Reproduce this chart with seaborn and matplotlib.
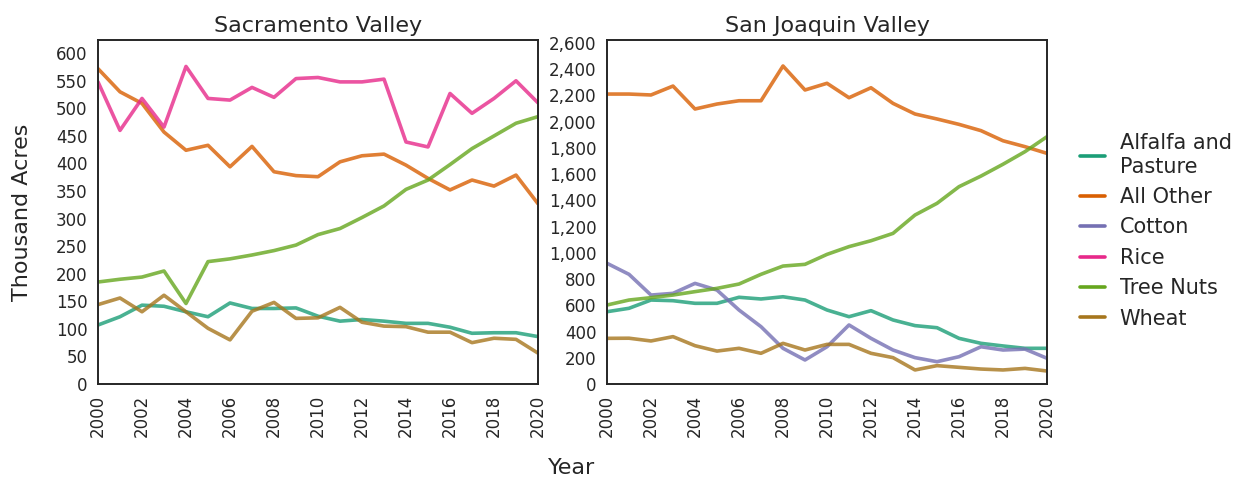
import matplotlib
matplotlib.use("Agg")
import matplotlib.pyplot as plt
import matplotlib.ticker as mticker
import seaborn as sns
import pandas as pd

years = list(range(2000, 2021))
crops = ["Alfalfa and\nPasture", "All Other", "Cotton", "Rice", "Tree Nuts", "Wheat"]

# Sacramento Valley (thousand acres)
sac_alfalfa = [107, 122, 143, 141, 131, 122, 147, 137, 137, 138, 123, 114, 117, 114, 110, 110, 103, 92, 93, 93, 86]
sac_other = [572, 530, 509, 457, 424, 433, 394, 431, 385, 378, 376, 403, 414, 417, 397, 373, 352, 370, 359, 379, 327]
sac_rice = [548, 460, 518, 466, 576, 518, 515, 538, 520, 554, 556, 548, 548, 553, 439, 430, 527, 491, 518, 550, 510]
sac_nuts = [185, 190, 194, 205, 146, 222, 227, 234, 242, 252, 271, 282, 302, 323, 353, 370, 398, 427, 450, 473, 485]
sac_wheat = [144, 156, 131, 161, 131, 101, 80, 132, 148, 119, 120, 139, 112, 105, 104, 94, 94, 75, 83, 81, 56]

# San Joaquin Valley (thousand acres)
sj_alfalfa = [551, 577, 640, 635, 615, 615, 661, 648, 665, 640, 564, 513, 559, 488, 445, 429, 348, 310, 290, 272, 272]
sj_other = [2210, 2210, 2203, 2271, 2096, 2134, 2159, 2159, 2424, 2241, 2292, 2182, 2258, 2139, 2058, 2020, 1979, 1931, 1854, 1809, 1758]
sj_cotton = [920, 836, 678, 691, 767, 716, 564, 437, 272, 183, 284, 450, 348, 259, 201, 170, 208, 284, 259, 266, 196]
sj_nuts = [602, 640, 658, 678, 704, 729, 762, 836, 899, 912, 988, 1047, 1092, 1148, 1288, 1377, 1504, 1585, 1675, 1771, 1885]
sj_wheat = [348, 349, 328, 361, 292, 251, 272, 234, 310, 259, 302, 302, 234, 201, 107, 140, 127, 114, 107, 119, 99]


def to_long(series):
    rows = []
    for crop, vals in series.items():
        for y, v in zip(years, vals):
            rows.append({"Year": y, "Crop": crop, "Acres": v})
    return pd.DataFrame(rows)


sac = to_long({crops[0]: sac_alfalfa, crops[1]: sac_other, crops[3]: sac_rice,
               crops[4]: sac_nuts, crops[5]: sac_wheat})
sj = to_long({crops[0]: sj_alfalfa, crops[1]: sj_other, crops[2]: sj_cotton,
              crops[4]: sj_nuts, crops[5]: sj_wheat})

sns.set_style("white")
plt.rcParams["font.family"] = ["DejaVu Sans"]
dark2 = sns.color_palette("Dark2", 8)
# Dark2 without the yellow entry
palette = dict(zip(crops, dark2[:5] + [dark2[6]]))

fig = plt.figure(figsize=(12.47, 4.78), dpi=100)
ax1 = fig.add_axes([98 / 1247, 1 - 384 / 478, 440 / 1247, 344 / 478])
ax2 = fig.add_axes([607 / 1247, 1 - 384 / 478, 440 / 1247, 344 / 478])

for ax, df, title, top, step in [(ax1, sac, "Sacramento Valley", 624, 50),
                                 (ax2, sj, "San Joaquin Valley", 2622, 200)]:
    sns.lineplot(data=df, x="Year", y="Acres", hue="Crop", hue_order=crops,
                 palette=palette, linewidth=2.6, alpha=0.8, ax=ax, legend=False)
    ax.set_title(title, fontsize=16, color="#262626", pad=6)
    ax.set_xlim(2000, 2020)
    ax.set_ylim(0, top)
    ax.set_xticks(range(2000, 2021, 2))
    ax.yaxis.set_major_locator(mticker.MultipleLocator(step))
    ax.yaxis.set_major_formatter(mticker.FuncFormatter(lambda v, p: f"{v:,.0f}"))
    ax.tick_params(axis="x", labelrotation=90)
    ax.tick_params(labelsize=12, colors="#262626", length=4, width=1)
    ax.tick_params(color="#bbbbbb")
    ax.set_xlabel("")
    ax.set_ylabel("")
    for s in ax.spines.values():
        s.set_color("#262626")
        s.set_linewidth(1.4)

fig.text(572 / 1247, 1 - 468 / 478, "Year", ha="center", va="center", fontsize=16, color="#262626")
fig.text(22 / 1247, 1 - 212 / 478, "Thousand Acres", ha="center", va="center",
         rotation=90, fontsize=16, color="#262626")

handles = [plt.Line2D([], [], color=palette[c], linewidth=2.6) for c in crops]
fig.legend(handles, crops, loc="center left", bbox_to_anchor=(1080 / 1247, 1 - 231 / 478),
           frameon=False, fontsize=15, handlelength=1.2, handletextpad=0.7,
           labelspacing=0.5, borderpad=0, borderaxespad=0)

fig.savefig("out.png", dpi=100)
